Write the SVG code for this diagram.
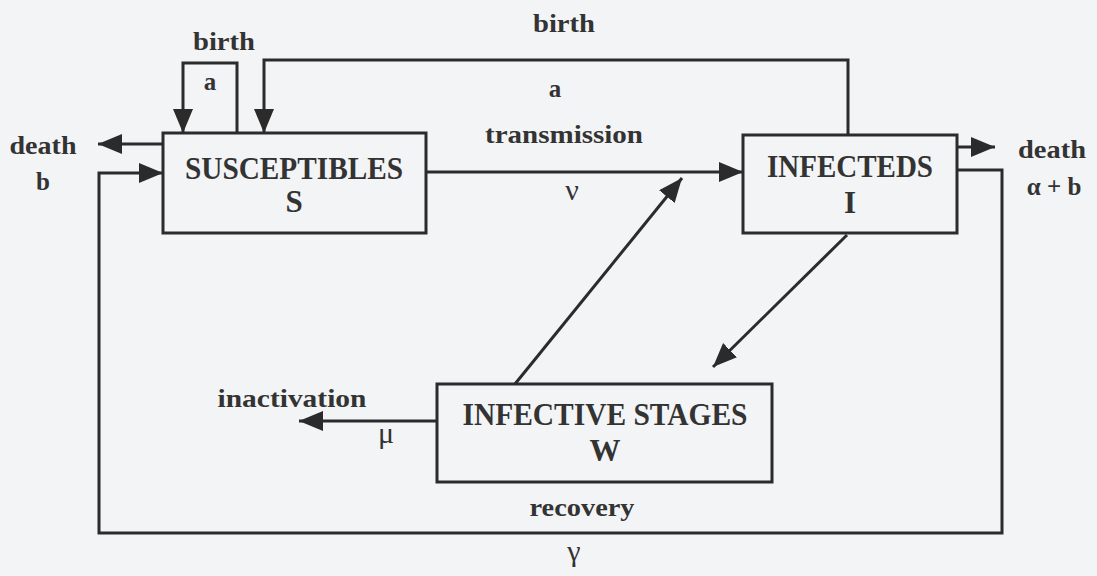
<svg xmlns="http://www.w3.org/2000/svg" width="1097" height="576" viewBox="0 0 1097 576">
<defs>
<marker id="ah" markerUnits="userSpaceOnUse" markerWidth="26" markerHeight="22" refX="24" refY="10" orient="auto">
<path d="M0,0 L24,10 L0,20 z" fill="#2b2b2b"/>
</marker>
<style>
.box{fill:none;stroke:#2b2b2b;stroke-width:3}
.ln{fill:none;stroke:#2b2b2b;stroke-width:3}
.arr{marker-end:url(#ah)}
.big{font-family:"Liberation Serif","Times New Roman",serif;font-weight:bold;font-size:31px;fill:#333;text-anchor:middle}
.lbl{font-family:"Liberation Serif","Times New Roman",serif;font-weight:bold;font-size:25px;fill:#333;text-anchor:middle}
.grk{font-family:"Liberation Serif","Times New Roman",serif;font-size:30px;fill:#333;text-anchor:middle}
</style>
</defs>
<rect width="1097" height="576" fill="#f3f4f6"/>
<g id="connectors">
<path class="ln arr" d="M237,133 V63 H183 V133"/>
<path class="ln arr" d="M848,135 V60 H264 V133"/>
<path class="ln arr" d="M163,144 H98"/>
<path class="ln arr" d="M426,172 H743"/>
<path class="ln arr" d="M957,147 H995"/>
<path class="ln arr" d="M957,170 H1002 V533 H99 V173 H163"/>
<path class="ln arr" d="M515,384 L682,178"/>
<path class="ln arr" d="M847,235 L713,367"/>
<path class="ln arr" d="M437,421 H299"/>
</g>
<g id="node-S">
<rect class="box" x="163" y="133" width="263" height="100"/>
<text class="big" x="294" y="179" textLength="218" lengthAdjust="spacingAndGlyphs">SUSCEPTIBLES</text>
<text class="big" x="294" y="212">S</text>
</g>
<g id="node-I">
<rect class="box" x="743" y="135" width="214" height="98"/>
<text class="big" x="850" y="177" textLength="166" lengthAdjust="spacingAndGlyphs">INFECTEDS</text>
<text class="big" x="850" y="213">I</text>
</g>
<g id="node-W">
<rect class="box" x="437" y="384" width="335" height="98"/>
<text class="big" x="605" y="425" textLength="285" lengthAdjust="spacingAndGlyphs">INFECTIVE STAGES</text>
<text class="big" x="605" y="461">W</text>
</g>
<g id="labels">
<text class="lbl" x="224" y="50" textLength="62" lengthAdjust="spacingAndGlyphs">birth</text>
<text class="lbl" x="210" y="90">a</text>
<text class="lbl" x="564" y="32" textLength="62" lengthAdjust="spacingAndGlyphs">birth</text>
<text class="lbl" x="555" y="97">a</text>
<text class="lbl" x="564" y="143" textLength="158" lengthAdjust="spacingAndGlyphs">transmission</text>
<text class="grk" x="572" y="200">ν</text>
<text class="lbl" x="43" y="154" textLength="67" lengthAdjust="spacingAndGlyphs">death</text>
<text class="lbl" x="43" y="190">b</text>
<text class="lbl" x="1052" y="158" textLength="68" lengthAdjust="spacingAndGlyphs">death</text>
<text class="lbl" x="1054" y="195">α + b</text>
<text class="lbl" x="292" y="407" textLength="149" lengthAdjust="spacingAndGlyphs">inactivation</text>
<text class="grk" x="386" y="443">μ</text>
<text class="lbl" x="582" y="516" textLength="105" lengthAdjust="spacingAndGlyphs">recovery</text>
<text class="grk" x="574" y="561">γ</text>
</g>
</svg>
